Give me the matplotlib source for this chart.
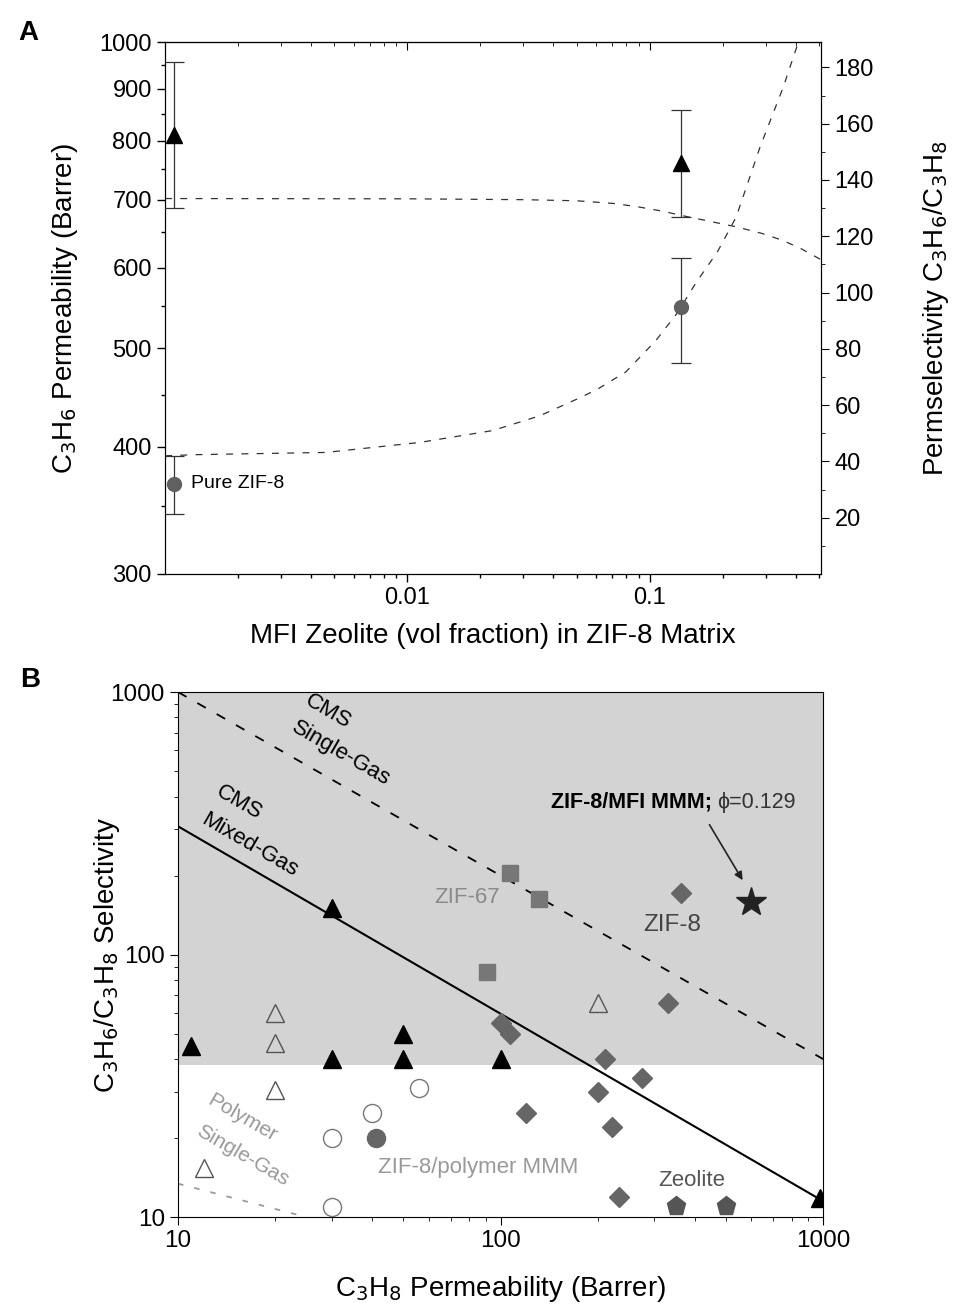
import matplotlib
matplotlib.use("Agg")
import matplotlib.pyplot as plt
from matplotlib.ticker import FixedLocator, NullFormatter, LogLocator, FuncFormatter

plt.rcParams['font.family'] = ['Liberation Sans', 'DejaVu Sans']
plt.rcParams['lines.scale_dashes'] = False

# ---- panel A data ----
# vol fraction of MFI (pure ZIF-8 drawn at the left edge)
a_frac = [0.00109, 0.135]
a_perm = [368, 549]           # C3H6 permeability (left axis)
a_perm_err = [24, 65]
a_sel = [156, 146]            # permselectivity (right axis)
a_sel_err = [26, 19]

# model curves
perm_model_x = [0.001, 0.00133, 0.0046, 0.0112, 0.0224, 0.035, 0.0514, 0.061, 0.0796,
                0.106, 0.13, 0.155, 0.19, 0.227, 0.285, 0.355, 0.41]
perm_model_y = [392, 393, 395, 404, 415, 429, 447, 456, 474, 509, 542, 580, 622, 673,
                789, 903, 1000]
sel_model_x = [0.001, 0.01, 0.03, 0.05, 0.072, 0.09, 0.113, 0.135, 0.17, 0.226, 0.29,
               0.354, 0.42, 0.472, 0.51]
sel_model_y = [133.4, 133.3, 133.0, 132.6, 131.6, 130.4, 128.9, 127.4, 125.6, 123.4,
               121.0, 118.5, 115.6, 113.2, 111.6]

# ---- panel B data ----
tri_f_x = [11, 30, 50, 50, 100, 30, 980]
tri_f_y = [45, 40, 50, 40, 40, 150, 11.8]
tri_o_x = [20, 20, 20, 12, 200]
tri_o_y = [60, 46, 30.5, 15.4, 65.6]
circ_o_x = [56, 40, 30, 30]
circ_o_y = [31, 25, 20, 10.9]
circ_f_x = [41]
circ_f_y = [20]
zif67_x = [107, 132, 91]
zif67_y = [205, 163, 86]
zif8_x = [363, 331, 100, 107, 211, 274, 201, 120, 221, 233]
zif8_y = [172, 65.6, 55, 50, 40, 34, 30, 25, 22, 11.9]
zeol_x = [351, 500]
zeol_y = [11, 11]
mmm_x = [600]
mmm_y = [158]

cms_single_x = [10, 1000]
cms_single_y = [1000, 40]
cms_mixed_x = [10, 1000]
cms_mixed_y = [308, 11.5]
poly_x = [10, 25]
poly_y = [13.4, 10]

fig = plt.figure(figsize=(9.54, 13.06), dpi=100)

# ================= panel A =================
ax = fig.add_axes([0.173, 0.5605, 0.688, 0.4073])
ax.set_xscale('log')
ax.set_yscale('log')
ax.set_xlim(0.001, 0.51)
ax.set_ylim(300, 1000)
ax.plot(perm_model_x, perm_model_y, color='#333333', lw=0.9, dashes=(5, 6))
ax.errorbar(a_frac, a_perm, yerr=a_perm_err, fmt='o', ms=10, color='#606060',
            ecolor='#333333', elinewidth=0.9, capsize=7, capthick=0.9, zorder=3)
ax.text(0.00128, 368, 'Pure ZIF-8', fontsize=14, va='center')

ax.yaxis.set_major_locator(FixedLocator([300, 400, 500, 600, 700, 800, 900, 1000]))
ax.yaxis.set_minor_locator(FixedLocator([350, 450, 550, 650, 750, 850, 950]))
ax.yaxis.set_major_formatter(FuncFormatter(lambda v, p: '%d' % v))
ax.yaxis.set_minor_formatter(NullFormatter())
ax.xaxis.set_major_locator(FixedLocator([0.01, 0.1]))
ax.xaxis.set_major_formatter(FuncFormatter(lambda v, p: '%g' % v))
ax.xaxis.set_minor_locator(LogLocator(base=10, subs=range(2, 10)))
ax.xaxis.set_minor_formatter(NullFormatter())
ax.tick_params(which='both', direction='out', labelsize=17, width=1)
ax.tick_params(which='major', length=6)
ax.tick_params(which='minor', length=3)
top = ax.secondary_xaxis('top')
top.set_xscale('log')
top.xaxis.set_major_locator(FixedLocator([0.01, 0.1]))
top.xaxis.set_minor_locator(LogLocator(base=10, subs=range(2, 10)))
top.xaxis.set_major_formatter(NullFormatter())
top.xaxis.set_minor_formatter(NullFormatter())
top.tick_params(which='both', direction='in')
top.tick_params(which='major', length=6)
top.tick_params(which='minor', length=3)

ax.set_xlabel('MFI Zeolite (vol fraction) in ZIF-8 Matrix', fontsize=20)
ax.xaxis.set_label_coords(0.5, -0.092)
ax.set_ylabel('C$_3$H$_6$ Permeability (Barrer)', fontsize=20)
ax.yaxis.set_label_coords(-0.13, 0.5)

ax2 = ax.twinx()
ax2.set_ylim(0, 189)
ax2.plot(sel_model_x, sel_model_y, color='#333333', lw=0.9, dashes=(5, 6))
ax2.errorbar(a_frac, a_sel, yerr=a_sel_err, fmt='^', ms=11, color='black',
             ecolor='#333333', elinewidth=0.9, capsize=7, capthick=0.9, zorder=3)
ax2.yaxis.set_major_locator(FixedLocator(range(20, 181, 20)))
ax2.yaxis.set_minor_locator(FixedLocator(range(10, 190, 20)))
ax2.tick_params(which='both', direction='out', labelsize=17)
ax2.tick_params(which='major', length=6)
ax2.tick_params(which='minor', length=3)
ax2.set_ylabel('Permselectivity C$_3$H$_6$/C$_3$H$_8$', fontsize=20)
ax2.yaxis.set_label_coords(1.152, 0.5)

fig.text(0.03, 0.975, 'A', fontsize=20, fontweight='bold', va='center', ha='center')

# ================= panel B =================
bx = fig.add_axes([0.1866, 0.0681, 0.6761, 0.4020])
bx.set_xscale('log')
bx.set_yscale('log')
bx.set_xlim(10, 1000)
bx.set_ylim(10, 1000)
bx.axhspan(38, 1000, color='#d3d3d3', zorder=0, lw=0)

bx.plot(cms_single_x, cms_single_y, color='black', lw=1.3, dashes=(7, 9))
bx.plot(cms_mixed_x, cms_mixed_y, color='black', lw=1.5)
bx.plot(poly_x, poly_y, color='#9a9a9a', lw=1.3, dashes=(4, 8))

bx.plot(tri_o_x, tri_o_y, '^', ms=13, mfc='none', mec='#555555', mew=1, zorder=3)
bx.plot(circ_o_x, circ_o_y, 'o', ms=13, mfc='none', mec='#777777', mew=1, zorder=3)
bx.plot(circ_f_x, circ_f_y, 'o', ms=13, color='#666666', zorder=3)
bx.plot(zif67_x, zif67_y, 's', ms=11, color='#777777', zorder=3)
bx.plot(zif8_x, zif8_y, 'D', ms=10, color='#666666', zorder=3)
bx.plot(zeol_x, zeol_y, 'p', ms=14, color='#555555', zorder=3)
bx.plot(tri_f_x, tri_f_y, '^', ms=13, color='black', zorder=4)
bx.plot(mmm_x, mmm_y, '*', ms=22, color='#222222', zorder=4)

bx.annotate('', xy=(569, 188), xytext=(440, 319),
            arrowprops=dict(arrowstyle='-|>', color='#222222', lw=1.2, mutation_scale=12))
bx.text(452, 380, 'ZIF-8/MFI MMM;', fontsize=15.5, fontweight='bold', ha='right', va='center')
bx.text(470, 380, '\u03d5=0.129', fontsize=15.5, ha='left', va='center', color='#333333')

bx.text(29.1, 846, 'CMS', fontsize=16, rotation=-30, ha='center', va='center')
bx.text(32, 585, 'Single-Gas', fontsize=16, rotation=-30, ha='center', va='center')
bx.text(15.5, 380, 'CMS', fontsize=16, rotation=-30, ha='center', va='center')
bx.text(16.7, 261, 'Mixed-Gas', fontsize=16, rotation=-30, ha='center', va='center')
bx.text(15.8, 23.9, 'Polymer', fontsize=15, rotation=-30, ha='center', va='center', color='#999999')
bx.text(15.8, 17.1, 'Single-Gas', fontsize=15, rotation=-30, ha='center', va='center', color='#999999')
bx.text(79, 165, 'ZIF-67', fontsize=16, ha='center', va='center', color='#8a8a8a')
bx.text(341, 130, 'ZIF-8', fontsize=17.5, ha='center', va='center', color='#444444')
bx.text(85.5, 15.5, 'ZIF-8/polymer MMM', fontsize=16, ha='center', va='center', color='#999999')
bx.text(393, 13.8, 'Zeolite', fontsize=16, ha='center', va='center', color='#555555')

bx.xaxis.set_major_locator(FixedLocator([10, 100, 1000]))
bx.yaxis.set_major_locator(FixedLocator([10, 100, 1000]))
fmt = FuncFormatter(lambda v, p: '%d' % v)
bx.xaxis.set_major_formatter(fmt)
bx.yaxis.set_major_formatter(fmt)
bx.xaxis.set_minor_locator(LogLocator(base=10, subs=range(2, 10)))
bx.yaxis.set_minor_locator(LogLocator(base=10, subs=range(2, 10)))
bx.xaxis.set_minor_formatter(NullFormatter())
bx.yaxis.set_minor_formatter(NullFormatter())
bx.tick_params(which='both', direction='out', labelsize=17.5)
bx.tick_params(which='major', length=6)
bx.tick_params(which='minor', length=3)
bx.set_xlabel('C$_3$H$_8$ Permeability (Barrer)', fontsize=20)
bx.xaxis.set_label_coords(0.5, -0.108)
bx.set_ylabel('C$_3$H$_6$/C$_3$H$_8$ Selectivity', fontsize=20)
bx.yaxis.set_label_coords(-0.087, 0.5)

fig.text(0.032, 0.479, 'B', fontsize=20, fontweight='bold', va='center', ha='center')

plt.savefig('out.png', dpi=100)
